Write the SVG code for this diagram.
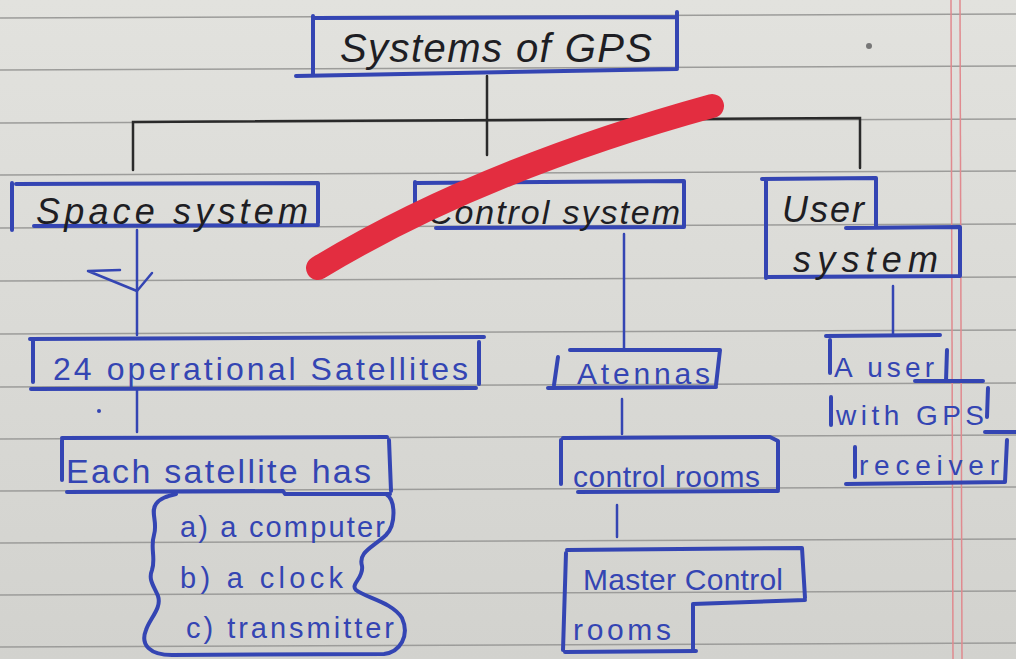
<svg xmlns="http://www.w3.org/2000/svg" width="1016" height="659" viewBox="0 0 1016 659">
<defs>
<linearGradient id="paper" x1="0" y1="0" x2="0" y2="1">
<stop offset="0" stop-color="#e2e2de"/>
<stop offset="1" stop-color="#d2d2ce"/>
</linearGradient>
</defs>
<style>
.rule{stroke:#9c9c9a;stroke-width:1.6;fill:none}
.margin{stroke:#e08a8f;stroke-width:1.5;fill:none}
.box{fill:none;stroke:#3445b3;stroke-width:4;stroke-linecap:round;stroke-linejoin:round}
.blk{fill:none;stroke:#2a2a2a;stroke-width:2.5;stroke-linecap:round}
.blu{fill:none;stroke:#3445b3;stroke-width:2.5;stroke-linecap:round;stroke-linejoin:round}
.tk{font-family:"Liberation Sans",Arial,sans-serif;fill:#1e1e24;font-style:italic}
.tb{font-family:"Liberation Sans",Arial,sans-serif;fill:#3445b3}
</style>
<rect width="1016" height="659" fill="url(#paper)"/>
<g id="paper-lines">
<path class="rule" d="M0,18 L1016,14"/>
<path class="rule" d="M0,70 L1016,66"/>
<path class="rule" d="M0,123 L1016,119"/>
<path class="rule" d="M0,175 L1016,171"/>
<path class="rule" d="M0,228 L1016,224"/>
<path class="rule" d="M0,281 L1016,277"/>
<path class="rule" d="M0,334 L1016,330"/>
<path class="rule" d="M0,387 L1016,383"/>
<path class="rule" d="M0,439 L1016,435"/>
<path class="rule" d="M0,491 L1016,487"/>
<path class="rule" d="M0,543 L1016,539"/>
<path class="rule" d="M0,595 L1016,591"/>
<path class="rule" d="M0,647 L1016,643"/>
<path class="margin" d="M951,0 L953,659"/>
<path class="margin" d="M960,0 L962,659"/>
</g>
<g id="connectors">
<path class="blk" d="M487,76 L487,155"/>
<path class="blk" d="M133,170 L133,122 L860,118 L860,168"/>
<path class="blu" d="M137,230 L137,335"/>
<path class="blu" d="M120,270 L88,271 L137,291 L152,273"/>
<path class="blu" d="M624,234 L624,350"/>
<path class="blu" d="M893,286 L893,334"/>
<path class="blu" d="M137,390 L137,432"/>
<circle cx="99" cy="411" r="2" fill="#3445b3"/>
<path class="blu" d="M622,399 L622,434"/>
<path class="blu" d="M617,505 L617,537"/>
</g>
<g id="node-title">
<path class="box" d="M313,16 L313,74 M313,18 L676,17 M677,12 L677,68 M296,76 L677,69"/>
<text class="tk" x="340" y="62" font-size="40" textLength="312" lengthAdjust="spacing">Systems of GPS</text>
</g>
<g id="node-space">
<path class="box" d="M12,183 L12,230 M16,184 L318,183 L318,223 M34,226 L318,225"/>
<text class="tk" x="36" y="224" font-size="36" textLength="272" lengthAdjust="spacing">Space system</text>
</g>
<g id="node-control">
<path class="box" d="M415,182 L415,223 M417,183 L684,181 L684,227 M436,228 L684,227"/>
<text class="tk" x="428" y="224" font-size="34" textLength="252" lengthAdjust="spacing">Control system</text>
</g>
<g id="node-user">
<path class="box" d="M766,180 L766,278 M762,179 L876,178 L876,226 M846,228 L960,227 L960,276 M766,277 L960,276"/>
<text class="tk" x="782" y="222" font-size="36" textLength="82" lengthAdjust="spacing">User</text>
<text class="tk" x="793" y="272" font-size="36" textLength="145" lengthAdjust="spacing">system</text>
</g>
<g id="node-satellites">
<path class="box" d="M33,341 L33,382 M30,339 L484,337 M479,342 L479,384 M31,389 L476,388"/>
<text class="tb" x="53" y="380" font-size="32" textLength="415" lengthAdjust="spacing">24 operational Satellites</text>
</g>
<g id="node-each">
<path class="box" d="M62,440 L62,480 M62,438 L387,437 M389,440 L391,491 M67,492 L283,491 L285,494 L390,494"/>
<text class="tb" x="66" y="483" font-size="34" textLength="305" lengthAdjust="spacing">Each satellite has</text>
</g>
<g id="node-items">
<path class="box" d="M286,494 L386,494 C396,500 396,525 386,535 C372,548 358,552 362,566 C364,578 350,584 356,590 C366,598 392,602 402,618 C410,636 400,652 384,654 L172,655 C150,655 140,645 146,630 C150,618 162,608 158,596 C154,586 148,580 152,570 C156,558 150,548 154,535 C158,522 150,512 156,504 C160,498 168,496 176,494"/>
<text class="tb" x="180" y="537" font-size="29" textLength="205" lengthAdjust="spacing">a) a computer</text>
<text class="tb" x="180" y="588" font-size="29" textLength="163" lengthAdjust="spacing">b) a clock</text>
<text class="tb" x="186" y="638" font-size="29" textLength="208" lengthAdjust="spacing">c) transmitter</text>
</g>
<g id="node-atennas">
<path class="box" d="M558,357 L554,385 M570,350 L720,350 L716,385 M548,388 L716,387"/>
<text class="tb" x="577" y="384" font-size="30" textLength="133" lengthAdjust="spacing">Atennas</text>
</g>
<g id="node-control-rooms">
<path class="box" d="M561,440 L561,484 M563,438 L770,437 L778,441 L778,490 M578,492 L778,491"/>
<text class="tb" x="573" y="487" font-size="30" textLength="187" lengthAdjust="spacing">control rooms</text>
</g>
<g id="node-master">
<path class="box" d="M566,553 L563,650 M567,550 L802,548 L805,598 M693,604 L805,600 M693,604 L693,650 M565,652 L696,651"/>
<text class="tb" x="583" y="590" font-size="30" textLength="200" lengthAdjust="spacing">Master Control</text>
<text class="tb" x="573" y="640" font-size="30" textLength="98" lengthAdjust="spacing">rooms</text>
</g>
<g id="node-gps-user">
<path class="box" d="M826,336 L940,335 M830,340 L830,373 M947,350 L946,381 M915,381 L983,381 M831,397 L831,425 M988,388 L987,417 M985,432 L1016,432 M855,447 L855,477 M1007,440 L1005,482 M846,484 L1005,482"/>
<text class="tb" x="834" y="377" font-size="28" textLength="100" lengthAdjust="spacing">A user</text>
<text class="tb" x="836" y="425" font-size="28" textLength="148" lengthAdjust="spacing">with GPS</text>
<text class="tb" x="859" y="475" font-size="28" textLength="140" lengthAdjust="spacing">receiver</text>
</g>
<g id="red-stroke">
<path d="M318,268 Q480,170 712,106" fill="none" stroke="#e32d40" stroke-width="24" stroke-linecap="round"/>
</g>
<circle cx="869" cy="46" r="3" fill="#777"/>
</svg>
